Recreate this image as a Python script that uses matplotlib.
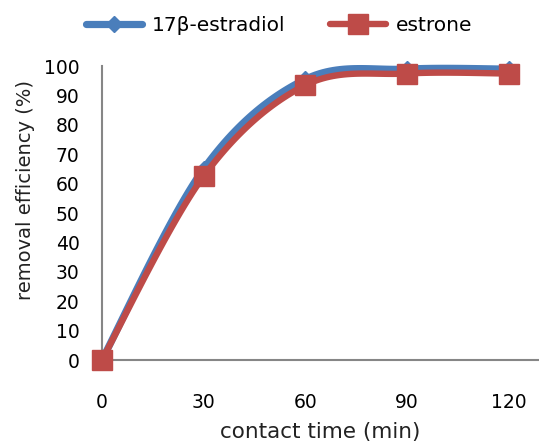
import numpy as np
import matplotlib
matplotlib.use("Agg")
import matplotlib.pyplot as plt

# data
time_min = [0, 30, 60, 90, 120]
estradiol = [0, 65, 95.5, 99, 99]
estrone = [0, 62.5, 93.5, 97.5, 97.5]
x_ticks = [0, 30, 60, 90, 120]
y_ticks = list(range(0, 101, 10))

BLUE = '#4A7EBB'
RED = '#BE4B48'
GREY = '#868686'


def smooth(xs, ys, n=30):
    # Catmull-Rom style smoothing like Excel's "smoothed line"
    xs = np.asarray(xs, float); ys = np.asarray(ys, float)
    px = np.concatenate([[xs[0]], xs, [xs[-1]]])
    py = np.concatenate([[ys[0]], ys, [ys[-1]]])
    ox, oy = [], []
    t = np.linspace(0, 1, n)
    for i in range(1, len(px) - 2):
        p0, p1, p2, p3 = [np.array([px[j], py[j]]) for j in range(i - 1, i + 3)]
        c1 = p1 + (p2 - p0) / 6.0
        c2 = p2 - (p3 - p1) / 6.0
        seg = ((1 - t) ** 3)[:, None] * p1 + (3 * (1 - t) ** 2 * t)[:, None] * c1 \
            + (3 * (1 - t) * t ** 2)[:, None] * c2 + (t ** 3)[:, None] * p2
        ox.extend(seg[:, 0]); oy.extend(seg[:, 1])
    return ox, oy


fig = plt.figure(figsize=(5.39, 4.44), dpi=100)
ax = fig.add_axes([0.189, 0.189, 0.811, 0.662])

sx, sy = smooth(time_min, estradiol)
ax.plot(sx, sy, color=BLUE, linewidth=5.2, solid_capstyle='round', clip_on=False, zorder=3)
ax.plot(time_min, estradiol, linestyle='none', marker='D', markersize=8,
        color=BLUE, clip_on=False, zorder=3)
sx, sy = smooth(time_min, estrone)
ax.plot(sx, sy, color=RED, linewidth=4.6, solid_capstyle='round', clip_on=False, zorder=4)
ax.plot(time_min, estrone, linestyle='none', marker='s', markersize=15,
        color=RED, clip_on=False, zorder=4)

ax.set_xlim(0, 129)
ax.set_ylim(0, 100)
ax.set_xticks(x_ticks)
ax.set_yticks(y_ticks)
ax.tick_params(length=0, labelsize=13.5, colors='black')
ax.tick_params(axis='x', pad=24)
ax.tick_params(axis='y', pad=16)
for s in ['top', 'right']:
    ax.spines[s].set_visible(False)
for s in ['left', 'bottom']:
    ax.spines[s].set_color(GREY)
    ax.spines[s].set_linewidth(1.5)

ax.set_xlabel('contact time (min)', fontsize=15.5, color='#222222')
ax.xaxis.set_label_coords(0.5, -0.212)
ax.set_ylabel('removal efficiency (%)', fontsize=14, color='#222222')
ax.yaxis.set_label_coords(-0.153, 0.58)

h1 = plt.Line2D([], [], color=BLUE, linewidth=5.2, marker='D', markersize=8, solid_capstyle='round')
h2 = plt.Line2D([], [], color=RED, linewidth=4.6, marker='s', markersize=15, solid_capstyle='round')
fig.legend([h1, h2], ['17β-estradiol', 'estrone'], loc='center', bbox_to_anchor=(0.518, 0.943),
           ncol=2, frameon=False, fontsize=14.5, handlelength=2.8, columnspacing=2.2,
           handletextpad=0.5)

fig.savefig('out.png', dpi=100)
